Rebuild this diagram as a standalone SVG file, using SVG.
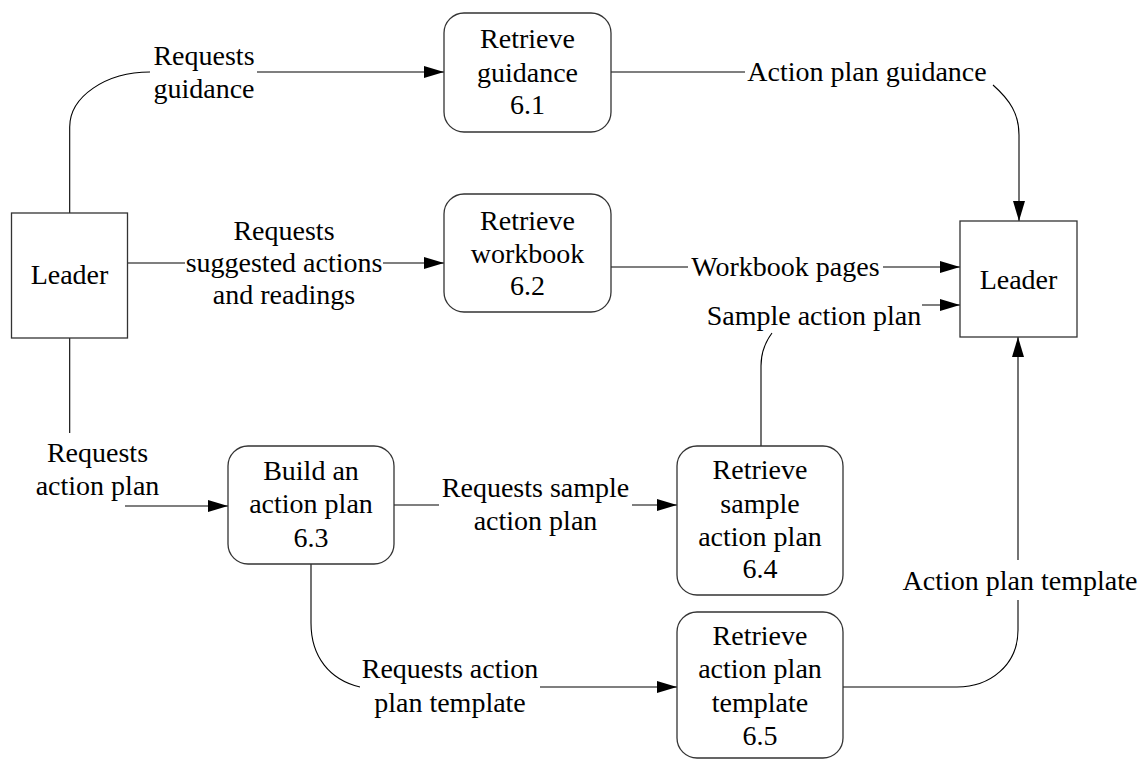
<svg xmlns="http://www.w3.org/2000/svg" width="1144" height="762" viewBox="0 0 1144 762">
  <style>
    .box { fill: #fff; stroke: #333; stroke-width: 1.3; }
    .flow { fill: none; stroke: #000; stroke-width: 1.1; }
    .lbl { font-size: 28px; fill: #000; text-anchor: middle; }
  </style>
  <defs>
    <marker id="arr" markerUnits="userSpaceOnUse" markerWidth="20" markerHeight="12" refX="20" refY="6" orient="auto">
      <path d="M0,0 L20,6 L0,12 z" fill="#000"/>
    </marker>
  </defs>
  <rect width="1144" height="762" fill="#fff"/>

  <g font-family="'Liberation Serif', 'DejaVu Serif', serif">
  <!-- data flows -->
  <g id="connectors">
    <!-- Leader to 6.1 -->
    <path class="flow" d="M69.7,213 V127 C69.7,96.6 105.8,72 150,72"/>
    <path class="flow" d="M257,72 H444" marker-end="url(#arr)"/>
    <text class="lbl" x="204" y="65">Requests</text>
    <text class="lbl" x="204" y="98">guidance</text>

    <!-- 6.1 to Leader -->
    <path class="flow" d="M611,72 H745"/>
    <path class="flow" d="M993,85 C1010,100 1019,114 1019,135 V221" marker-end="url(#arr)"/>
    <text class="lbl" x="867" y="81">Action plan guidance</text>

    <!-- Leader to 6.2 -->
    <path class="flow" d="M128,263 H185"/>
    <path class="flow" d="M383,263 H444" marker-end="url(#arr)"/>
    <text class="lbl" x="284" y="240">Requests</text>
    <text class="lbl" x="284" y="272">suggested actions</text>
    <text class="lbl" x="284" y="304">and readings</text>

    <!-- 6.2 to Leader -->
    <path class="flow" d="M611,267 H688"/>
    <path class="flow" d="M883,267 H960" marker-end="url(#arr)"/>
    <text class="lbl" x="785.5" y="276">Workbook pages</text>

    <!-- 6.4 to Leader -->
    <path class="flow" d="M761,446 V366 C761,352 766,341 772,333"/>
    <path class="flow" d="M922,305 H960" marker-end="url(#arr)"/>
    <text class="lbl" x="814" y="325">Sample action plan</text>

    <!-- Leader to 6.3 -->
    <path class="flow" d="M69.7,338 V433"/>
    <path class="flow" d="M125,506 H228" marker-end="url(#arr)"/>
    <text class="lbl" x="97.5" y="462">Requests</text>
    <text class="lbl" x="97.5" y="495">action plan</text>

    <!-- 6.3 to 6.4 -->
    <path class="flow" d="M394,505 H439"/>
    <path class="flow" d="M632,505 H677" marker-end="url(#arr)"/>
    <text class="lbl" x="535.5" y="497">Requests sample</text>
    <text class="lbl" x="535.5" y="530">action plan</text>

    <!-- 6.3 to 6.5 -->
    <path class="flow" d="M311,564 V623 C311,657 330,680 360,687"/>
    <path class="flow" d="M540,687 H677" marker-end="url(#arr)"/>
    <text class="lbl" x="450" y="678">Requests action</text>
    <text class="lbl" x="450" y="712">plan template</text>

    <!-- 6.5 to Leader -->
    <path class="flow" d="M843,687 H957 C990,687 1018,665 1018,630 V600"/>
    <path class="flow" d="M1018,560 V337" marker-end="url(#arr)"/>
    <text class="lbl" x="1020" y="590">Action plan template</text>
  </g>

  <!-- external entity: Leader (source) -->
  <g id="leader-source">
    <rect class="box" x="11.5" y="213" width="116" height="125"/>
    <text class="lbl" x="69.5" y="283.5">Leader</text>
  </g>

  <!-- external entity: Leader (sink) -->
  <g id="leader-sink">
    <rect class="box" x="960" y="221" width="117" height="116"/>
    <text class="lbl" x="1018.5" y="288.5">Leader</text>
  </g>

  <g id="p6-1">
    <rect class="box" x="444" y="13" width="167" height="119" rx="20"/>
    <text class="lbl" x="527.5" y="48.3">Retrieve</text>
    <text class="lbl" x="527.5" y="81.5">guidance</text>
    <text class="lbl" x="527.5" y="113.5">6.1</text>
  </g>

  <g id="p6-2">
    <rect class="box" x="444" y="194" width="167" height="118" rx="20"/>
    <text class="lbl" x="527.5" y="230">Retrieve</text>
    <text class="lbl" x="527.5" y="262.5">workbook</text>
    <text class="lbl" x="527.5" y="295">6.2</text>
  </g>

  <g id="p6-3">
    <rect class="box" x="228" y="446" width="166" height="118" rx="20"/>
    <text class="lbl" x="311" y="480">Build an</text>
    <text class="lbl" x="311" y="513">action plan</text>
    <text class="lbl" x="311" y="547">6.3</text>
  </g>

  <g id="p6-4">
    <rect class="box" x="677" y="446" width="166" height="149" rx="20"/>
    <text class="lbl" x="760" y="479">Retrieve</text>
    <text class="lbl" x="760" y="512.5">sample</text>
    <text class="lbl" x="760" y="545.5">action plan</text>
    <text class="lbl" x="760" y="578">6.4</text>
  </g>

  <g id="p6-5">
    <rect class="box" x="677" y="612" width="166" height="146" rx="20"/>
    <text class="lbl" x="760" y="645">Retrieve</text>
    <text class="lbl" x="760" y="678">action plan</text>
    <text class="lbl" x="760" y="712">template</text>
    <text class="lbl" x="760" y="745">6.5</text>
  </g>
  </g>
</svg>
